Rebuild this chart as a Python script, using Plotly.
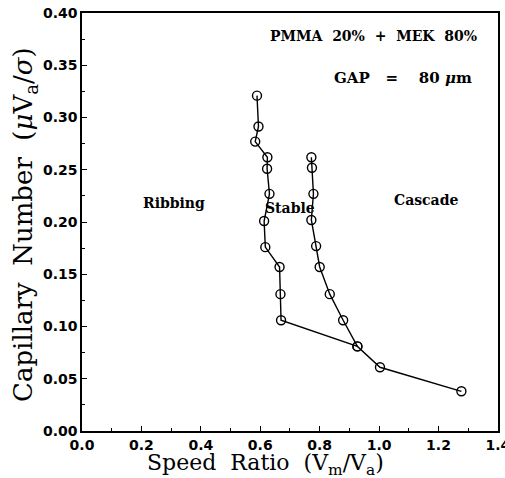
import plotly.graph_objects as go

# Ribbing / stable boundary (continues into the shared low-capillary tail)
left_x = [0.589, 0.594, 0.583, 0.624, 0.623, 0.631, 0.613, 0.617, 0.665, 0.668, 0.670, 0.927, 1.003, 1.277]
left_y = [0.321, 0.2915, 0.277, 0.262, 0.251, 0.227, 0.201, 0.176, 0.157, 0.131, 0.106, 0.081, 0.061, 0.038]

# Stable / cascade boundary
right_x = [0.772, 0.774, 0.779, 0.772, 0.788, 0.800, 0.834, 0.879, 0.927]
right_y = [0.262, 0.252, 0.227, 0.202, 0.177, 0.157, 0.131, 0.106, 0.081]

x_ticks = [0.0, 0.2, 0.4, 0.6, 0.8, 1.0, 1.2, 1.4]
x_labels = ["0.0", "0.2", "0.4", "0.6", "0.8", "1.0", "1.2", "1.4"]
y_ticks = [0.00, 0.05, 0.10, 0.15, 0.20, 0.25, 0.30, 0.35, 0.40]
y_labels = ["0.00", "0.05", "0.10", "0.15", "0.20", "0.25", "0.30", "0.35", "0.40"]

region_labels = ["Ribbing", "Stable", "Cascade"]
region_x = [0.31, 0.70, 1.158]
region_y = [0.218, 0.2135, 0.221]

fig = go.Figure()
for xs, ys in [(left_x, left_y), (right_x, right_y)]:
    fig.add_trace(go.Scatter(
        x=xs, y=ys, mode="lines+markers",
        line=dict(color="black", width=1.4),
        marker=dict(symbol="circle-open", size=9, color="black", line=dict(width=1.4)),
        showlegend=False,
    ))

axis_common = dict(
    showline=True, linecolor="black", linewidth=1.5, mirror=True,
    ticks="inside", ticklen=5, tickwidth=1.2, tickcolor="black",
    showgrid=False, zeroline=False, ticklabeloverflow="allow", automargin=False,
    tickfont=dict(family="DejaVu Sans", size=14, color="black", weight="bold"),
)

fig.update_xaxes(range=[0, 1.4002], tickvals=x_ticks, ticktext=x_labels,
                 minor=dict(ticks="inside", ticklen=3, tickwidth=1, tickcolor="black", dtick=0.1),
                 **axis_common)
fig.update_yaxes(range=[0, 0.4001], tickvals=y_ticks, ticktext=y_labels,
                 minor=dict(ticks="inside", ticklen=3, tickwidth=1, tickcolor="black", dtick=0.025),
                 **axis_common)

annos = []
for t, x, y in zip(region_labels, region_x, region_y):
    annos.append(dict(x=x, y=y, xref="x", yref="y", text=t, showarrow=False,
                      font=dict(family="DejaVu Serif", size=14, color="black", weight="bold")))

annos.append(dict(x=0.955, y=0.944, xref="paper", yref="paper", xanchor="right", yanchor="middle",
                  text="PMMA\u00a0\u00a020%\u00a0\u00a0+\u00a0\u00a0MEK\u00a0\u00a080%", showarrow=False,
                  font=dict(family="DejaVu Serif", size=14, color="black", weight="bold")))
annos.append(dict(x=0.942, y=0.845, xref="paper", yref="paper", xanchor="right", yanchor="middle",
                  text="GAP\u00a0\u00a0\u00a0=\u00a0\u00a0\u00a0\u00a080\u00a0<i>μ</i>m", showarrow=False,
                  font=dict(family="DejaVu Serif", size=15, color="black", weight="bold")))

annos.append(dict(x=0.442, y=-0.080, xref="paper", yref="paper", xanchor="center", yanchor="middle",
                  text="Speed\u00a0\u00a0Ratio\u00a0\u00a0(V<sub>m</sub>/V<sub>a</sub>)", showarrow=False,
                  font=dict(family="DejaVu Serif", size=22, color="black")))
annos.append(dict(x=-0.137, y=0.493, xref="paper", yref="paper", xanchor="center", yanchor="middle",
                  textangle=-90,
                  text="Capillary\u00a0\u00a0Number\u00a0\u00a0(<i>μ</i>V<sub>a</sub>/<i>σ</i>)", showarrow=False,
                  font=dict(family="DejaVu Serif", size=26, color="black")))

fig.update_layout(
    width=505, height=478,
    margin=dict(l=82, r=7, t=13, b=47, autoexpand=False),
    paper_bgcolor="white", plot_bgcolor="white",
    annotations=annos,
)

fig.write_html("out.html")
